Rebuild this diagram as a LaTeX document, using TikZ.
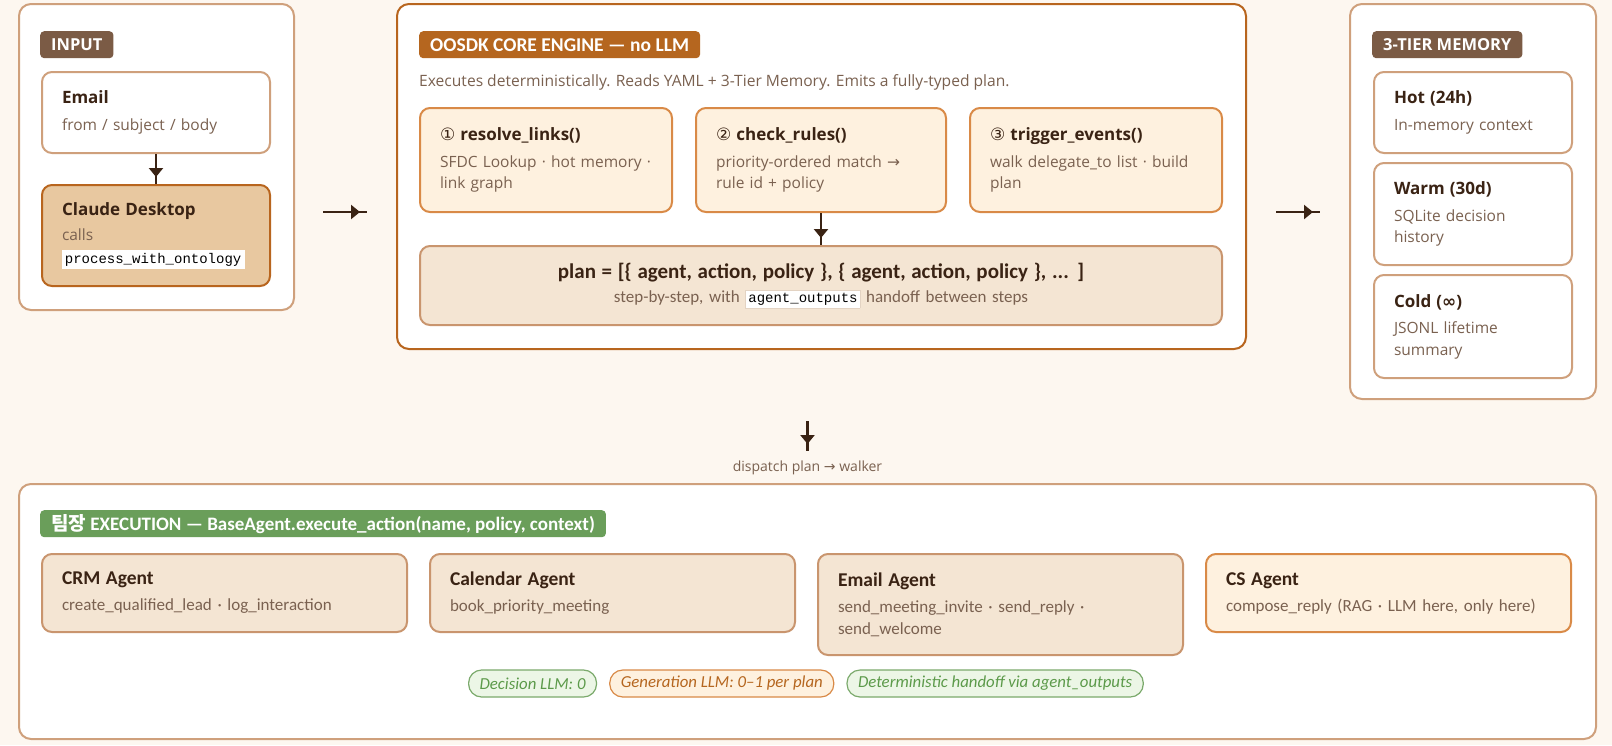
\documentclass[tikz,border=0pt]{standalone}
\usepackage{fontspec}
\usetikzlibrary{positioning,calc,arrows.meta,decorations.markings}
\setmainfont{Open Sans}
\setmonofont{Liberation Mono}
\newfontfamily\condfont{Carlito}
\newfontfamily\symfont{DejaVu Sans}
\newfontfamily\krfont{Noto Sans CJK KR}

\definecolor{pagebg}{HTML}{FDF7F0}
\definecolor{tanline}{HTML}{CFA07C}
\definecolor{coreline}{HTML}{B8651E}
\definecolor{brownbadge}{HTML}{7B5B45}
\definecolor{orangebadge}{HTML}{B5661F}
\definecolor{greenbadge}{HTML}{6A9E5A}
\definecolor{stepfill}{HTML}{FEF1DF}
\definecolor{stepline}{HTML}{D98A47}
\definecolor{planfill}{HTML}{F4E5D3}
\definecolor{planline}{HTML}{C9956E}
\definecolor{claudefill}{HTML}{E8C8A0}
\definecolor{ink}{HTML}{3A2314}
\definecolor{muted}{HTML}{7A6150}
\definecolor{codeline}{HTML}{E3D3C3}
\definecolor{gfill}{HTML}{ECF6E6}
\definecolor{gline}{HTML}{7BAA6C}
\definecolor{gtext}{HTML}{5C9A4A}

\newcommand\cardhead{\fontsize{17}{20}\selectfont\bfseries\color{ink}}
\newcommand\cardtext{\fontsize{15.5}{21.5}\selectfont\color{muted}}
\newcommand\agenthead{\condfont\fontsize{19.5}{22}\selectfont\bfseries\color{ink}}
\newcommand\agenttext{\condfont\fontsize{17}{22}\selectfont\color{muted}}
\newcommand\codechip[2][codeline]{{\setlength\fboxsep{2.5pt}\fcolorbox{#1}{white}{\ttfamily\fontsize{14}{15}\selectfont\color{black}#2}}}

\begin{document}
\begin{tikzpicture}[x=1pt,y=-1pt,
  panel/.style={draw=tanline, line width=2pt, fill=white, rounded corners=12pt,
    anchor=north west, inner sep=0pt},
  tag/.style={fill=#1, text=white, rounded corners=4pt, anchor=north west,
    minimum height=27pt, inner xsep=11pt, inner ysep=0pt},
  card/.style={draw=tanline, line width=2pt, fill=white, rounded corners=10pt,
    anchor=north west, align=left, inner xsep=20pt, inner ysep=0pt, font=\cardtext},
  stepcard/.style={card, draw=stepline, fill=stepfill, minimum height=104pt},
  memcard/.style={card, text width=158pt},
  agentcard/.style={card, draw=planline, fill=planfill, text width=325pt,
    minimum height=78pt, font=\agenttext},
  gpill/.style={draw=gline, fill=gfill, text=gtext, line width=1.2pt,
    rounded corners=13pt, minimum height=27pt, inner xsep=11pt, inner ysep=0pt,
    font=\condfont\itshape\fontsize{16.8}{18}\selectfont},
  opill/.style={gpill, draw=stepline, fill=stepfill, text=orangebadge},
  flow/.style={draw=ink, line width=2.6pt,
    decoration={markings, mark=at position -7pt with {\arrow{Triangle[length=9pt,width=14pt]}}},
    postaction=decorate}
]
\fill[pagebg] (0,0) rectangle (1612,745);
\useasboundingbox (0,0) rectangle (1612,745);

% panels
\node[panel, minimum width=275pt, minimum height=306pt] (inp) at (18,3) {};
\node[panel, draw=coreline, minimum width=849pt, minimum height=345pt] (core) at (396,3) {};
\node[panel, minimum width=246pt, minimum height=395pt] (mem) at (1349,3) {};
\node[panel, minimum width=1577pt, minimum height=255pt] (exec) at (18,483) {};

\node[tag=brownbadge, font=\bfseries\fontsize{16.5}{17}\selectfont] (inTag) at (40,31) {INPUT};
\node[tag=orangebadge, font=\condfont\bfseries\fontsize{19.5}{20}\selectfont] (coreTag) at (419,31) {OOSDK CORE ENGINE — no LLM};
\node[tag=brownbadge, font=\bfseries\fontsize{16.5}{17}\selectfont] (memTag) at (1372,31) {3-TIER MEMORY};
\node[tag=greenbadge, font=\condfont\bfseries\fontsize{19}{20}\selectfont] (execTag) at (40,510)
  {{\krfont\bfseries 팀장} EXECUTION — BaseAgent.execute\_action(name, policy, context)};

% input
\node[card, text width=188pt, minimum height=81pt] (email) at (41,71)
  {{\cardhead Email}\\[5pt]from / subject / body};
\node[card, draw=coreline, fill=claudefill, text width=188pt, minimum height=101pt] (claude) at (41,184)
  {{\cardhead Claude Desktop}\\[4pt]calls\\[1pt]\codechip[white]{process\_with\_ontology}};
\draw[flow] (email) -- (claude);

% core engine
\node[anchor=west, inner sep=0pt, text=muted, font=\fontsize{15.6}{16}\selectfont] (desc) at (419,82)
  {Executes deterministically. Reads YAML + 3-Tier Memory. Emits a fully-typed plan.};
\node[stepcard, text width=212pt] (s1) at (419,107)
  {{\cardhead{\symfont\mdseries ①} resolve\_links()}\\[5pt]SFDC Lookup · hot memory ·\\link graph};
\node[stepcard, text width=210pt] (s2) at (695,107)
  {{\cardhead{\symfont\mdseries ②} check\_rules()}\\[5pt]priority-ordered match {\symfont →}\\rule id + policy};
\node[stepcard, text width=212pt] (s3) at (969,107)
  {{\cardhead{\symfont\mdseries ③} trigger\_events()}\\[5pt]walk delegate\_to list · build\\plan};
\node[card, draw=planline, fill=planfill, align=center, text width=762pt, minimum height=79pt,
  font=\agenttext] (plan) at (419,245)
  {{\condfont\fontsize{21}{24}\selectfont\bfseries\color{ink}plan = [\{ agent, action, policy \}, \{ agent, action, policy \}, ... ]}\\[2pt]
   step-by-step, with \codechip{agent\_outputs} handoff between steps};
\draw[flow] (s2) -- (plan);

% memory
\node[memcard, minimum height=81pt] (hot) at (1373,71)
  {{\cardhead Hot (24h)}\\[5pt]In-memory context};
\node[memcard, minimum height=102pt] (warm) at (1373,162)
  {{\cardhead Warm (30d)}\\[5pt]SQLite decision\\history};
\node[memcard, minimum height=103pt] (cold) at (1373,274)
  {{\cardhead Cold ({\symfont ∞})}\\[5pt]JSONL lifetime\\summary};

\coordinate (lane) at (0,212);
\draw[flow] ($(inp.east |- lane)+(28,0)$) -- ($(core.west |- lane)+(-29,0)$);
\draw[flow] ($(core.east |- lane)+(29,0)$) -- ($(mem.west |- lane)+(-29,0)$);

% dispatch
\draw[flow] ($(exec.north)+(0,-62)$) -- ($(exec.north)+(0,-32)$);
\node[text=muted, font=\fontsize{14}{15}\selectfont] (disp) at ($(exec.north)+(0,-15)$)
  {dispatch plan {\symfont →} walker};

% agents
\node[agentcard] (crm) at (41,553)
  {{\agenthead CRM Agent}\\[4pt]create\_qualified\_lead · log\_interaction};
\node[agentcard] (cal) at (429,553)
  {{\agenthead Calendar Agent}\\[4pt]book\_priority\_meeting};
\node[agentcard, minimum height=101pt] (mail) at (817,553)
  {{\agenthead Email Agent}\\[4pt]send\_meeting\_invite · send\_reply ·\\send\_welcome};
\node[agentcard, draw=stepline, fill=stepfill] (cs) at (1205,553)
  {{\agenthead CS Agent}\\[4pt]compose\_reply (RAG · LLM here, only here)};

\node[gpill, anchor=west] (p1) at (468,683.5) {Decision LLM: 0};
\node[opill, right=12pt of p1] (p2) {Generation LLM: 0–1 per plan};
\node[gpill, right=12pt of p2] (p3) {Deterministic handoff via agent\_outputs};
\end{tikzpicture}
\end{document}
